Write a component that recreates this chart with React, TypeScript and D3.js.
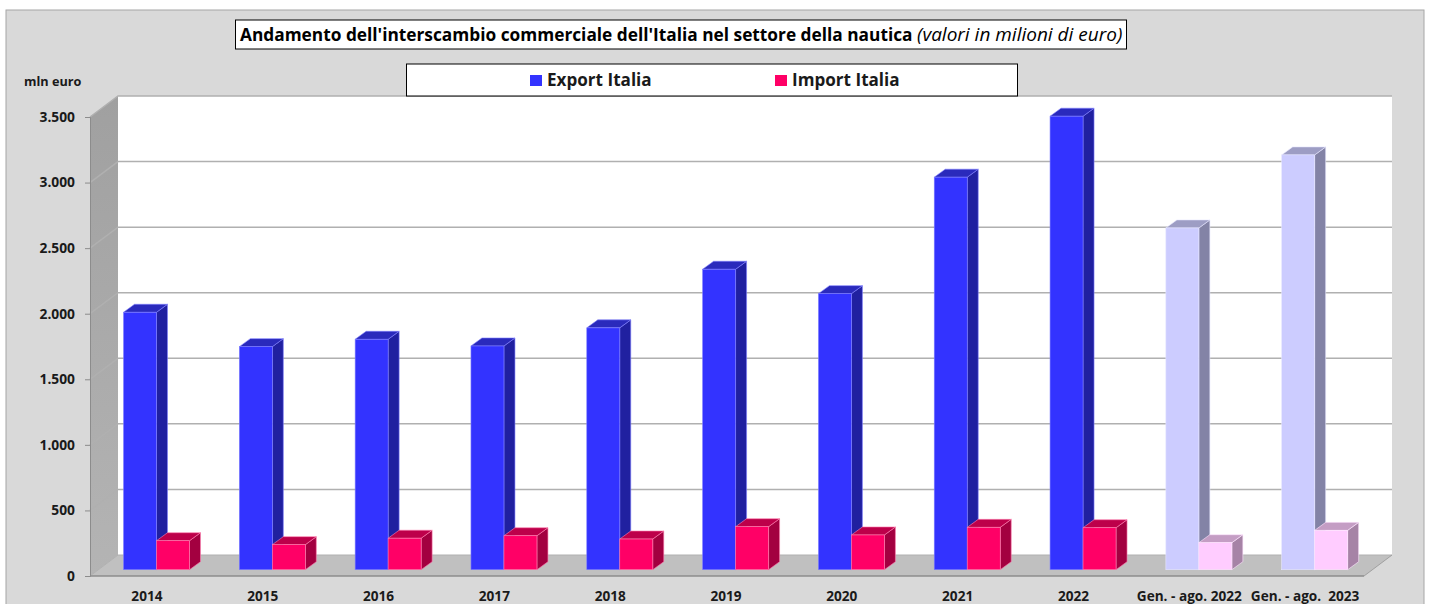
import React, { useEffect, useRef } from "react";
import * as d3 from "d3";

const categories = ["2014", "2015", "2016", "2017", "2018", "2019", "2020", "2021", "2022", "Gen. - ago. 2022", "Gen. - ago.  2023"];
const exportItalia = [1963, 1701, 1757, 1706, 1844, 2291, 2105, 2993, 3458, 2606, 3163];
const importItalia = [221, 191, 240, 259, 234, 328, 265, 323, 320, 206, 300];
const partialPeriods = ["Gen. - ago. 2022", "Gen. - ago.  2023"];
const yTicks = [0, 500, 1000, 1500, 2000, 2500, 3000, 3500];

const FONT = "'Open Sans', sans-serif";

const full = {
  exp: { front: "#3333ff", side: "#2020a0", top: "#2a2abc", edge: "#8080ff" },
  imp: { front: "#ff0066", side: "#a30040", top: "#bd004a", edge: "#ff80b0" },
};
const faded = {
  exp: { front: "#ccccff", side: "#8383a6", top: "#9d9dc4", edge: "#e6e6ff" },
  imp: { front: "#ffccff", side: "#a683a6", top: "#c49dc4", edge: "#ffe6ff" },
};

const App = () => {
  const chartRef = useRef<SVGSVGElement>(null);

  useEffect(() => {
    const svg = d3.select(chartRef.current);
    svg.selectAll("*").remove();

    const width = 1430;
    const height = 604;
    const x0 = 90, x1 = 1364; // front edge of the floor
    const depthX = 28, depthY = 21; // 3d offset of the walls
    const barDepthX = 11, barDepthY = 8;
    const barBase = 569.7;

    const x = d3.scaleBand().domain(categories).range([x0, x1]);
    const y = d3.scaleLinear().domain([0, 3500]).range([576, 117]);
    const h = d3.scaleLinear().domain([0, 3500]).range([0, 459]);
    const fmt = (d: number) => d3.format(",")(d).replace(/,/g, ".");

    svg.attr("width", width).attr("height", height);

    const defs = svg.append("defs");
    const grad = defs.append("linearGradient").attr("id", "wall").attr("x1", 0).attr("x2", 0).attr("y1", 0).attr("y2", 1);
    grad.append("stop").attr("offset", "0%").attr("stop-color", "#a0a0a0");
    grad.append("stop").attr("offset", "100%").attr("stop-color", "#b4b4b4");

    // Cornice esterna
    svg.append("rect").attr("x", 6).attr("y", 10).attr("width", 1418).attr("height", 600)
      .attr("fill", "#d9d9d9").attr("stroke", "#a6a6a6").attr("stroke-width", 1);

    // Pareti e pavimento
    const yTop = y(3500), yBot = y(0);
    svg.append("rect").attr("x", x0 + depthX).attr("y", yTop - depthY).attr("width", x1 - x0).attr("height", yBot - yTop)
      .attr("fill", "#fff");
    svg.append("polygon")
      .attr("points", `${x0},${yTop} ${x0 + depthX},${yTop - depthY} ${x0 + depthX},${yBot - depthY} ${x0},${yBot}`)
      .attr("fill", "url(#wall)");
    svg.append("polygon")
      .attr("points", `${x0},${yBot} ${x0 + depthX},${yBot - depthY} ${x1 + depthX},${yBot - depthY} ${x1},${yBot}`)
      .attr("fill", "#c0c0c0");

    // Griglia
    svg.selectAll(".grid")
      .data(yTicks)
      .enter()
      .append("polyline")
      .attr("class", "grid")
      .attr("points", d => `${x0},${y(d)} ${x0 + depthX},${y(d) - depthY} ${x1 + depthX},${y(d) - depthY}`)
      .attr("fill", "none")
      .attr("stroke", "#b0b0b0")
      .attr("stroke-width", d => (d === 0 ? 1 : 1.5));
    svg.append("line").attr("x1", x0).attr("x2", x1).attr("y1", yBot).attr("y2", yBot)
      .attr("stroke", "#8c8c8c").attr("stroke-width", 1.5);
    svg.append("line").attr("x1", x1).attr("x2", x1 + depthX).attr("y1", yBot).attr("y2", yBot - depthY)
      .attr("stroke", "#a0a0a0");

    // Assi
    const yAxis = svg.append("g")
      .attr("transform", `translate(${x0}, 0)`)
      .call(d3.axisLeft(y).tickValues(yTicks).tickFormat(d => fmt(d as number)).tickSize(5).tickPadding(10));
    yAxis.select(".domain").attr("stroke", "#8c8c8c");
    yAxis.selectAll("line").attr("stroke", "#8c8c8c");
    yAxis.selectAll("text").attr("font-family", FONT).attr("font-weight", 700).attr("font-size", 13.8).attr("fill", "#1a1a1a");

    const xAxis = svg.append("g")
      .attr("transform", `translate(-1, ${yBot})`)
      .call(d3.axisBottom(x).tickSize(0).tickPadding(15));
    xAxis.select(".domain").remove();
    xAxis.selectAll("text").attr("font-family", FONT).attr("font-weight", 700).attr("font-size", 13.6)
      .attr("fill", "#1a1a1a").style("white-space", "pre");

    // Barre 3d: una colonna per ogni valore
    const drawBars = (values: number[], key: "exp" | "imp", offset: number) => {
      const barW = 33;
      const groups = svg.append("g").selectAll("g")
        .data(categories.map((c, i) => ({ c, v: values[i] })))
        .enter()
        .append("g")
        .attr("transform", d => `translate(${(x(d.c) as number) + 33.5 + offset * barW}, ${barBase - h(d.v)})`);
      const pal = (d: { c: string }) => (partialPeriods.includes(d.c) ? faded : full)[key];
      groups.append("polygon")
        .attr("points", d => `${barW},0 ${barW + barDepthX},${-barDepthY} ${barW + barDepthX},${h(d.v) - barDepthY} ${barW},${h(d.v)}`)
        .attr("fill", d => pal(d).side)
        .attr("stroke", d => pal(d).edge)
        .attr("stroke-width", 0.6);
      groups.append("polygon")
        .attr("points", `0,0 ${barDepthX},${-barDepthY} ${barW + barDepthX},${-barDepthY} ${barW},0`)
        .attr("fill", d => pal(d).top)
        .attr("stroke", d => pal(d).edge)
        .attr("stroke-width", 0.6);
      groups.append("rect")
        .attr("width", barW)
        .attr("height", d => h(d.v))
        .attr("fill", d => pal(d).front)
        .attr("stroke", d => pal(d).edge)
        .attr("stroke-width", 0.6);
    };
    drawBars(exportItalia, "exp", 0);
    drawBars(importItalia, "imp", 1);

    // Titolo
    svg.append("rect").attr("x", 235.5).attr("y", 20).attr("width", 891).attr("height", 29)
      .attr("fill", "#fff").attr("stroke", "#000").attr("stroke-width", 1);
    const title = svg.append("text").attr("x", 240).attr("y", 41).attr("font-family", FONT).attr("fill", "#000");
    title.append("tspan").attr("font-weight", 700).attr("font-size", 17.3).text("Andamento dell'interscambio commerciale dell'Italia nel settore della nautica ");
    title.append("tspan").attr("font-style", "italic").attr("font-size", 19).text("(valori in milioni di euro)");

    svg.append("text").attr("x", 24).attr("y", 86).attr("font-family", FONT).attr("font-weight", 700).attr("font-size", 12.7)
      .attr("fill", "#1a1a1a").text("mln euro");

    // Legenda
    svg.append("rect").attr("x", 406.5).attr("y", 64).attr("width", 611).attr("height", 32)
      .attr("fill", "#fff").attr("stroke", "#000").attr("stroke-width", 1);
    const legend = [
      { label: "Export Italia", color: full.exp.front, lx: 530 },
      { label: "Import Italia", color: full.imp.front, lx: 775 },
    ];
    const items = svg.selectAll(".legend").data(legend).enter().append("g").attr("class", "legend");
    items.append("rect").attr("x", d => d.lx).attr("y", 75).attr("width", 12).attr("height", 11).attr("fill", d => d.color);
    items.append("text").attr("x", d => d.lx + 17).attr("y", 86).attr("font-family", FONT).attr("font-weight", 700)
      .attr("font-size", 17.1).attr("fill", "#1a1a1a").text(d => d.label);
  }, []);

  return <svg ref={chartRef} style={{ position: "absolute", left: 0, top: 0 }}></svg>;
};

export default App;
